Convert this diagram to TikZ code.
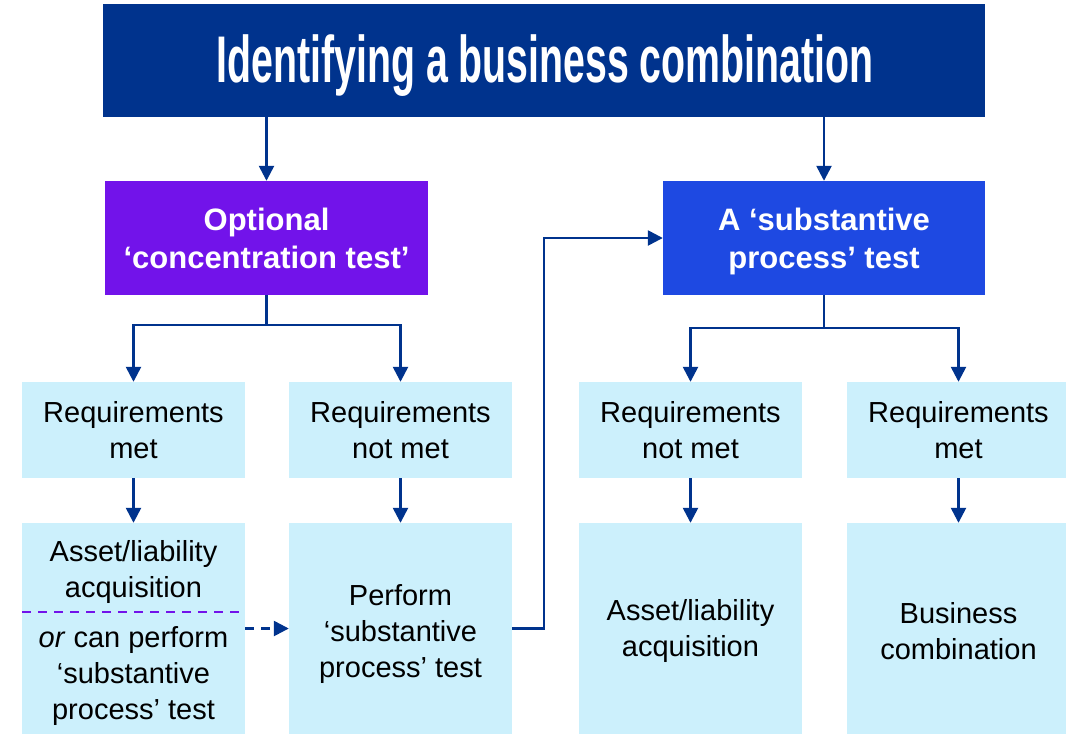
\documentclass[tikz,border=0pt]{standalone}
\usepackage{fontspec}
\setmainfont{Liberation Sans}
\usetikzlibrary{arrows.meta,calc}
\definecolor{navy}{RGB}{0,51,141}
\definecolor{violetbox}{RGB}{114,19,234}
\definecolor{bluebox}{RGB}{30,73,226}
\definecolor{cyanbox}{RGB}{204,240,252}
\definecolor{dashpurple}{RGB}{114,19,234}
\tikzset{
  x=1pt, y=-1pt,
  titlebox/.style={fill=navy, minimum width=882pt, minimum height=113pt, inner sep=0pt},
  headbox/.style={minimum width=323pt, minimum height=114pt, inner sep=0pt, text=white, align=center,
     font=\fontsize{31}{38}\selectfont\bfseries},
  headtext/.style={inner sep=0pt, text=white, align=center, font=\fontsize{31}{38}\selectfont\bfseries},
  lightbox/.style={fill=cyanbox, minimum width=223pt, inner sep=0pt, align=center,
     font=\fontsize{29}{36}\selectfont},
  plaintext/.style={inner sep=0pt, align=center, font=\fontsize{29}{36}\selectfont},
  arr/.style={draw=navy, line width=2.5pt, -{Triangle[length=15pt,width=15pt]}},
}
\begin{document}
\begin{tikzpicture}
\useasboundingbox (0,0) rectangle (1066,734);
% title
\node[titlebox] (title) at (544,60.5) {};
\node[inner sep=0pt, anchor=base, text=white] (titletext) at (545,82)
  {\scalebox{0.595}[1]{\fontsize{66}{66}\selectfont\bfseries Identifying a business combination}};
% headers
\node[headbox, fill=violetbox] (conc) at (266.5,238) {Optional\\‘concentration test’};
\node[headbox, fill=bluebox, minimum width=322pt] (subst) at (824,238) {};
\node[headtext] (substtext) at (824,241) {A ‘substantive\\process’ test};
% row 2
\node[lightbox, minimum height=96pt] (metA) at (133.5,430) {Requirements\\met};
\node[lightbox, minimum height=96pt] (notA) at (400.5,430) {Requirements\\not met};
\node[lightbox, minimum height=96pt] (notB) at (690.5,430) {Requirements\\not met};
\node[lightbox, minimum height=96pt] (metB) at (958.5,430) {Requirements\\met};
% row 3
\node[lightbox, minimum height=211pt] (assetA) at (133.5,628.5) {};
\node[plaintext] (assetAtop) at (133.5,572) {Asset/liability\\acquisition};
\node[plaintext] (assetAbot) at (133.5,676) {\textit{or} can perform\\‘substantive\\process’ test};
\coordinate (dashL) at (22,612);
\coordinate (dashR) at (240,612);
\draw[draw=dashpurple, line width=2pt, dash pattern=on 9pt off 7pt] (dashL) -- (dashR);
\node[lightbox, minimum height=211pt] (perform) at (400.5,628.5) {};
\node[plaintext] (performtext) at (400.5,634) {Perform\\‘substantive\\process’ test};
\node[lightbox, minimum height=211pt] (assetB) at (690.5,628.5) {};
\node[plaintext] (assetBtext) at (690.5,631) {Asset/liability\\acquisition};
\node[lightbox, minimum height=211pt] (busB) at (958.5,628.5) {};
\node[plaintext] (busBtext) at (958.5,631) {Business\\combination};
% connectors
\draw[arr] (title.south -| conc) -- (conc.north);
\draw[arr] (title.south -| subst) -- (subst.north);
\draw[arr] (conc.south) -- ++(0,30) -| (metA.north);
\draw[arr] (conc.south) -- ++(0,30) -| (notA.north);
\draw[arr] (subst.south) -- ++(0,33) -| (notB.north);
\draw[arr] (subst.south) -- ++(0,33) -| (metB.north);
\draw[arr] (metA) -- (assetA);
\draw[arr] (notA) -- (perform);
\draw[arr] (notB) -- (assetB);
\draw[arr] (metB) -- (busB);
\draw[arr, dash pattern=on 9pt off 7pt] (assetA.east) -- (perform.west);
\draw[arr] (perform.east) -- ++(32,0) |- (subst.west);
\end{tikzpicture}
\end{document}
